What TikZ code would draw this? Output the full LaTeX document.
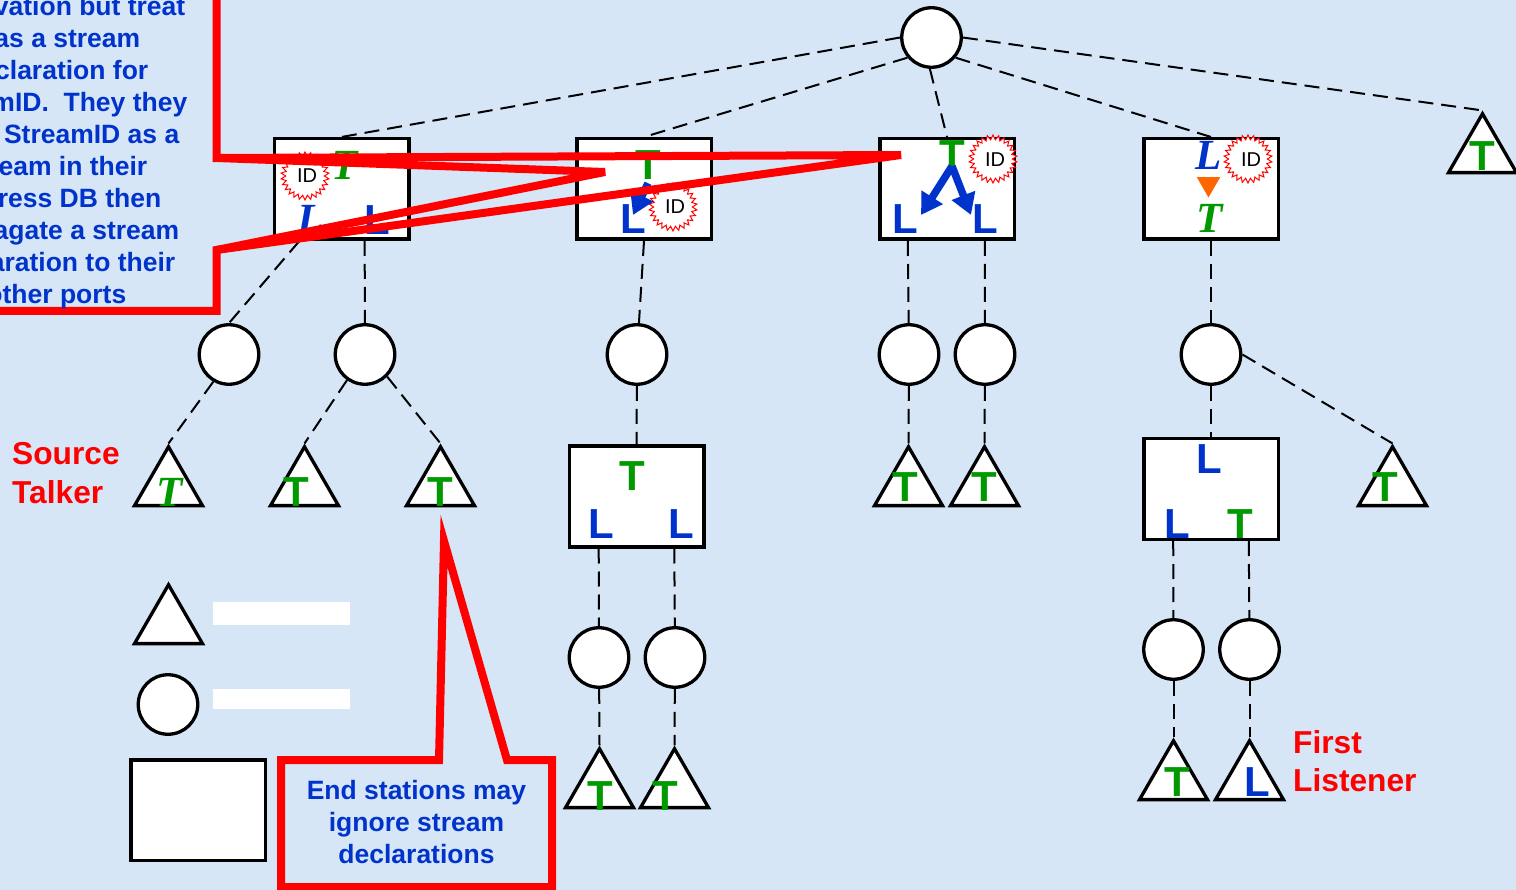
\documentclass[tikz,border=0pt]{standalone}
\usepackage{fontspec}
\setmainfont{Liberation Sans}
\newfontfamily\timesfont{Liberation Serif}
\usepackage{tikz}
\usetikzlibrary{arrows.meta,shapes.geometric}
\definecolor{PaperBlue}{RGB}{214,230,246}
\definecolor{TalkerGreen}{RGB}{0,153,0}
\definecolor{ListenerBlue}{RGB}{0,51,204}
\definecolor{DeclOrange}{RGB}{255,102,0}
\tikzset{
  bridgebox/.style={
      draw,
      fill=white,
      line width=3.5pt,
      minimum width=134.5pt,
      minimum height=100.5pt,
      inner sep=0pt,
  },
  hub/.style={
      draw,
      fill=white,
      circle,
      line width=3.3pt,
      minimum size=59.5pt,
      inner sep=0pt,
  },
  station/.style={
      draw,
      fill=white,
      regular polygon,
      regular polygon sides=3,
      line width=3.3pt,
      minimum size=78.5pt,
      inner sep=0pt,
  },
  idburst/.style={
      draw=red,
      fill=white,
      star,
      star points=26,
      star point ratio=1.24,
      line width=1pt,
      minimum size=48pt,
      inner sep=0pt,
  },
  letter/.style={
      anchor=base,
      inner sep=0pt,
      font=\fontsize{42}{42}\selectfont\bfseries,
  },
  sloped letter/.style={
      anchor=base,
      inner sep=0pt,
      font=\fontsize{43}{43}\selectfont\timesfont\bfseries\itshape,
  },
  talker/.style={letter, text=TalkerGreen},
  listener/.style={letter, text=ListenerBlue},
  talkerit/.style={sloped letter, text=TalkerGreen},
  listenerit/.style={sloped letter, text=ListenerBlue},
  idtext/.style={
      inner sep=0pt,
      font=\fontsize{20}{20}\selectfont,
  },
  link/.style={
      line width=2pt,
      dash pattern=on 15pt off 8pt,
  },
  fatarrow/.style={
      ListenerBlue,
      line width=7.5pt,
      -{Triangle[length=21pt,width=24pt]},
  },
  redline/.style={
      red,
      line width=8pt,
      miter limit=10,
  },
  notetext/.style={
      text=ListenerBlue,
      inner sep=0pt,
      font=\fontsize{26.5}{32}\selectfont\bfseries,
  },
  redtext/.style={
      text=red,
      inner sep=0pt,
      align=left,
      font=\fontsize{31.7}{38}\selectfont\bfseries,
  },
  blank/.style={
      fill=white,
      inner sep=0pt,
  },
}

\begin{document}
\begin{tikzpicture}[x=1pt,y=-1pt]
  \fill[PaperBlue] (0,0) rectangle (1516,890);
  \useasboundingbox (0,0) rectangle (1516,890);
  \clip (0,0) rectangle (1516,890);

  \node(ROOT) [hub] at (931.5,37.5) {};

  \node(BOX1) [bridgebox] at (341.5,189) {};
  \node(BOX2) [bridgebox] at (644,189) {};
  \node(BOX3) [bridgebox] at (947,189) {};
  \node(BOX4) [bridgebox] at (1211,189) {};
  \node(BOX5) [bridgebox] at (636.5,496.5) {};
  \node(BOX6) [bridgebox] at (1211,489) {};

  \node(HUB1) [hub] at (229,354.5) {};
  \node(HUB2) [hub] at (365,354.5) {};
  \node(HUB3) [hub] at (637,354.5) {};
  \node(HUB4) [hub] at (909,354.5) {};
  \node(HUB5) [hub] at (985,354.5) {};
  \node(HUB6) [hub] at (1211,354.5) {};
  \node(HUB7) [hub] at (599,657.5) {};
  \node(HUB8) [hub] at (675,657.5) {};
  \node(HUB9) [hub] at (1173.5,649.5) {};
  \node(HUB10) [hub] at (1249.5,649.5) {};

  \node(END1) [station] at (168.5,486) {};
  \node(END2) [station] at (304.5,486) {};
  \node(END3) [station] at (440.5,486) {};
  \node(END4) [station] at (908.5,486) {};
  \node(END5) [station] at (984.5,486) {};
  \node(END6) [station] at (1392.5,486) {};
  \node(END7) [station] at (1482.5,153) {};
  \node(END8) [station] at (599.5,788) {};
  \node(END9) [station] at (674.5,788) {};
  \node(END10) [station] at (1173.5,780) {};
  \node(END11) [station] at (1249.5,780) {};

  \path[link]
  (ROOT.west) edge (BOX1.north)
  (ROOT.-140) edge (BOX2.north)
  (ROOT.-93) edge (BOX3.north)
  (ROOT.-40) edge (BOX4.north)
  (ROOT.east) edge (END7.corner 1)
  (BOX1.-129) edge (HUB1.north)
  (BOX1.-66) edge (HUB2)
  (BOX2.south) edge (HUB3)
  (BOX3.-127) edge (HUB4)
  (BOX3.-54) edge (HUB5)
  (BOX4.south) edge (HUB6)
  (HUB1.-120) edge (END1.corner 1)
  (HUB2.-125) edge (END2.corner 1)
  (HUB2.-45) edge (END3.corner 1)
  (HUB3) edge (BOX5.north)
  (HUB4) edge (END4.corner 1)
  (HUB5) edge (END5.corner 1)
  (HUB6) edge (BOX6.north)
  (HUB6.east) edge (END6.corner 1)
  (BOX5.-126) edge (HUB7)
  (BOX5.-54) edge (HUB8)
  (BOX6.-126) edge (HUB9)
  (BOX6.-54) edge (HUB10)
  (HUB7) edge (END8.corner 1)
  (HUB8) edge (END9.corner 1)
  (HUB9) edge (END10.corner 1)
  (HUB10) edge (END11.corner 1)
  ;

  \node(ID1) [idburst] at (305,176) {};
  \node(ID2) [idburst] at (673,207) {};
  \node(ID3) [idburst] at (993,159) {};
  \node(ID4) [idburst] at (1248,159) {};
  \node(IDTEXT1) [idtext] at (307,176) {ID};
  \node(IDTEXT2) [idtext] at (675,207) {ID};
  \node(IDTEXT3) [idtext] at (995,160) {ID};
  \node(IDTEXT4) [idtext] at (1251,160) {ID};

  \node(T1) [talkerit] at (345,180) {T};
  \node(L1A) [listenerit] at (311,234) {L};
  \node(L1B) [listener] at (377,235) {L};
  \node(T2) [talker] at (648,180) {T};
  \node(L2) [listener] at (633,234) {L};
  \node(T3) [talker] at (952,170) {T};
  \node(L3A) [listener] at (905,234) {L};
  \node(L3B) [listener] at (985,234) {L};
  \node(L4) [listenerit] at (1209,170) {L};
  \node(ORANGE) [fill=DeclOrange, regular polygon, regular polygon sides=3, shape border rotate=180, minimum size=27pt, inner sep=0pt] at (1208.5,184) {};
  \node(T4) [talkerit] at (1210,233) {T};
  \node(T5) [talker] at (632,490) {T};
  \node(L5A) [listener] at (601,538) {L};
  \node(L5B) [listener] at (681,538) {L};
  \node(L6A) [listener] at (1209,474) {L};
  \node(L6B) [listener] at (1177,538) {L};
  \node(T6) [talker] at (1240,538) {T};

  \node(TEND1) [talkerit] at (170,506) {T};
  \node(TEND2) [talker] at (296.5,506) {T};
  \node(TEND3) [talker] at (440.5,506) {T};
  \node(TEND4) [talker] at (905,501) {T};
  \node(TEND5) [talker] at (984,501) {T};
  \node(TEND6) [talker] at (1385,501) {T};
  \node(TEND7) [talker] at (1482,171) {T};
  \node(TEND8) [talker] at (600,810) {T};
  \node(TEND9) [talker] at (665,810) {T};
  \node(TEND10) [talker] at (1177,796) {T};
  \node(LEND11) [listener] at (1257,796) {L};

  \coordinate (TIP2) at (633,215);
  \coordinate (TIP3A) at (921,215);
  \coordinate (TIP3B) at (971,215);
  \draw[fatarrow] (T2.south) ++(0,3) -- (TIP2);
  \draw[fatarrow] (T3.south) ++(0,-4) -- (TIP3A);
  \draw[fatarrow] (T3.south) ++(0,-4) -- (TIP3B);

  % legend
  \node(KEYEND) [station] at (168.5,624) {};
  \node(KEYHUB) [hub] at (168,704.5) {};
  \node(KEYBOX) [bridgebox] at (198,810) {};
  \node(KEYBAR1) [blank, minimum width=137pt, minimum height=23pt] at (281.5,613.5) {};
  \node(KEYBAR2) [blank, minimum width=137pt, minimum height=20pt] at (281.5,699) {};

  \node(SOURCE) [redtext, anchor=west] at (12,473) {Source\\[1pt]Talker};
  \node(FIRST) [redtext, anchor=west] at (1293,761) {First\\Listener};

  % callouts
  \draw[redline, miter limit=4] (216.5,-10) -- (216.5,158) -- (901,155) -- (216.5,250) -- (216.5,311) -- (-10,311);
  \draw[redline, miter limit=4] (216.5,158) -- (605,172) -- (216.5,250);
  \draw[redline] (281,760) -- (439,760) -- (444,541) -- (507,760) -- (552,760) -- (552,887) -- (281,887) -- cycle;

  \node(NOTE2) [notetext, align=center] at (416.5,822) {End stations may\\ignore stream\\declarations};
  \foreach \n/\txt/\xr/\yb in {
      1/vation but treat/185.5/16,
      2/as a stream/140.5/48,
      3/claration for/148.5/80,
      4/mID.\ \ They they/187.5/112,
      5/StreamID as a/179.5/144,
      6/eam in their/147.5/176,
      7/ress DB then/161.5/208,
      8/agate a stream/179.5/240,
      9/aration to their/175.5/272,
      10/other ports/126.5/304}
    \node(NOTE1\n) [notetext, anchor=base east] at (\xr,\yb) {\txt};
\end{tikzpicture}
\end{document}
